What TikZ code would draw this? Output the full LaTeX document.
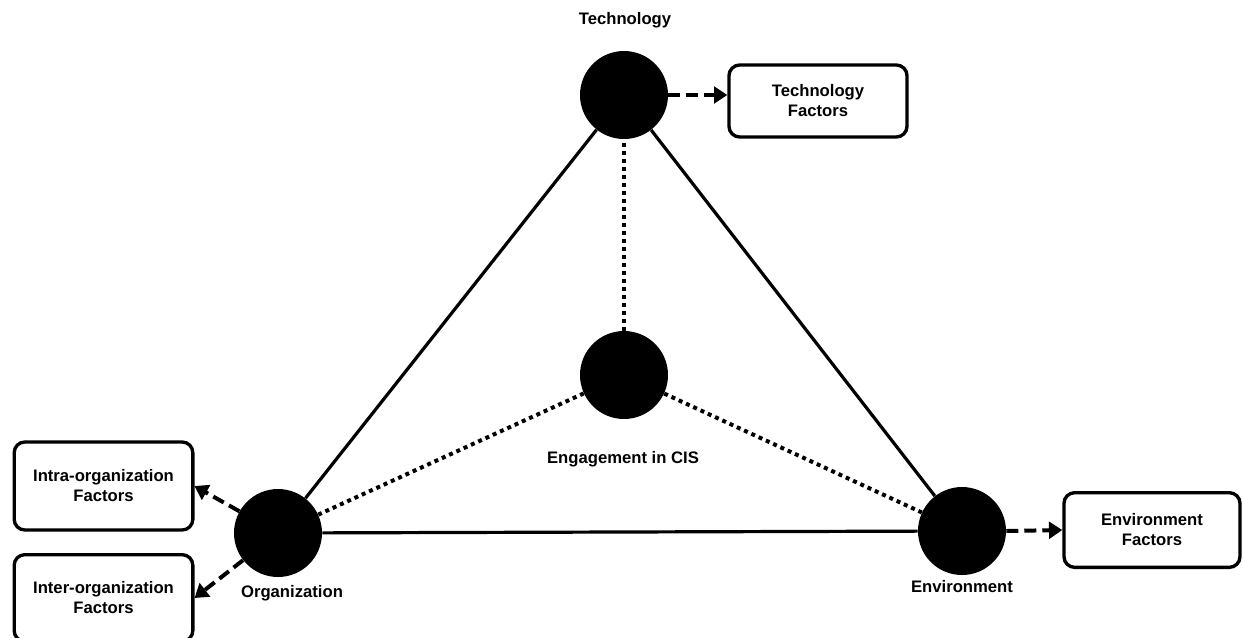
\documentclass[tikz,border=0pt]{standalone}
\usepackage{fontspec}
\setmainfont{Liberation Sans}
\usetikzlibrary{arrows.meta}

\begin{document}
\begin{tikzpicture} [x=0.75pt, y=-0.75pt,
  font=\fontsize{12.5}{15}\selectfont\bfseries,
  dot/.style={circle, fill=black, inner sep=0, minimum size=66pt},
  factor/.style={draw, line width=2.5pt, rounded corners=8pt, align=center, inner sep=0},
  side/.style={line width=2.4pt},
  link/.style={line width=3pt, dash pattern=on 3pt off 3pt},
  push/.style={line width=3pt, dash pattern=on 9pt off 4.5pt, -{Triangle[length=10pt, width=12.5pt]}}]
\useasboundingbox (0,0) rectangle (1243,637);
% the three corners and the centre
\node[dot] (tech) at (624,95) {};
\node[dot] (eng)  at (624,375) {};
\node[dot] (org)  at (278,533) {};
\node[dot] (env)  at (962,531) {};
\node at (625,20)  {Technology};
\node at (623,459) {Engagement in CIS};
\node at (292,593) {Organization};
\node at (962,587) {Environment};
% factor boxes
\node[factor, minimum width=133.5pt, minimum height=54pt] (techf)  at (818,101)  {Technology\\Factors};
\node[factor, minimum width=134pt, minimum height=66pt]   (intraf) at (103.5,486) {Intra-organization\\Factors};
\node[factor, minimum width=134pt, minimum height=65pt]   (interf) at (103.5,598) {Inter-organization\\Factors};
\node[factor, minimum width=132pt, minimum height=56pt]   (envf)   at (1152,530) {Environment\\Factors};
% triangle
\draw[side] (org) -- (tech);
\draw[side] (tech) -- (env);
\draw[side] (org) -- (env);
\foreach \n in {tech,org,env}
  \draw[link] (eng) -- (\n);
% arrows out to the factors
\draw[push] (tech.east) -- (tech.east -| techf.west);
\draw[push] (env.east) -- (envf.west);
\draw[push] (org) -- (intraf.east);
\draw[push] (org) -- (interf.east);
\end{tikzpicture}
\end{document}
